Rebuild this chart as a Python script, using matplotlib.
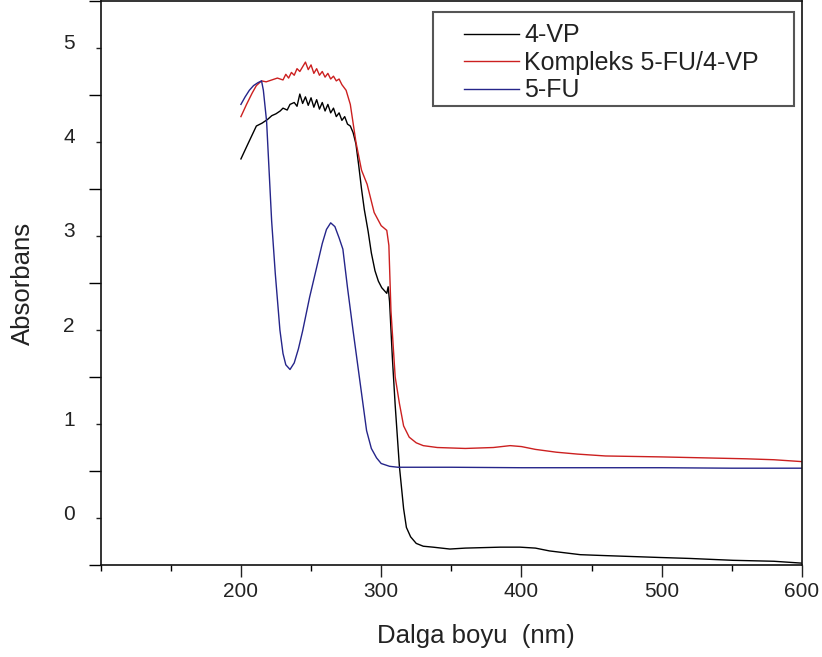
import numpy as np
import matplotlib
matplotlib.use("Agg")
import matplotlib.pyplot as plt
from matplotlib.ticker import FixedLocator
from matplotlib.patches import Rectangle
import matplotlib.transforms as mtransforms

plt.rcParams['font.family'] = ['Liberation Sans', 'DejaVu Sans']

# 4-VP (black)
vp_x = [200, 205, 211, 215, 219, 222, 225, 228, 230, 233, 235, 238, 240, 242, 244, 246, 248, 250,
        252, 254, 256, 258, 260, 262, 264, 266, 268, 270, 272, 274, 276, 278, 280, 282, 284, 286,
        288, 290.7, 293, 295.6, 298, 300.4, 304, 305, 306, 308, 310, 313, 316, 318, 321, 325, 330,
        337, 349, 360, 385, 399, 410, 420, 442, 460, 499, 520, 551, 580, 600]
vp_y = [3.82, 3.98, 4.17, 4.20, 4.24, 4.28, 4.30, 4.33, 4.36, 4.34, 4.40, 4.42, 4.38, 4.51, 4.41,
        4.48, 4.39, 4.47, 4.37, 4.45, 4.35, 4.42, 4.33, 4.40, 4.31, 4.36, 4.27, 4.31, 4.23, 4.27,
        4.19, 4.17, 4.10, 3.98, 3.75, 3.50, 3.28, 3.05, 2.82, 2.63, 2.52, 2.45, 2.39, 2.46, 2.30,
        1.70, 1.20, 0.55, 0.10, -0.10, -0.20, -0.27, -0.30, -0.31, -0.33, -0.32, -0.31, -0.31,
        -0.32, -0.35, -0.39, -0.40, -0.42, -0.43, -0.45, -0.46, -0.48]

# Kompleks 5-FU/4-VP (red)
komp_x = [200, 204, 208, 211, 214.7, 218, 222, 226, 230, 232, 234, 236, 238, 240, 242, 244, 246,
          248, 250, 252, 254, 256, 258, 260, 262, 264, 266, 268, 270, 272, 275, 278, 282, 286, 290,
          295, 300, 304, 305.5, 307, 310, 313, 316, 320, 325, 330, 340, 360, 380, 392, 400, 410,
          425, 440, 460, 500, 530, 560, 580, 600]
komp_y = [4.27, 4.40, 4.52, 4.60, 4.65, 4.64, 4.66, 4.68, 4.66, 4.72, 4.68, 4.74, 4.71, 4.78,
          4.75, 4.80, 4.85, 4.77, 4.82, 4.73, 4.78, 4.71, 4.75, 4.69, 4.73, 4.67, 4.70, 4.65, 4.67,
          4.61, 4.55, 4.40, 4.00, 3.70, 3.55, 3.25, 3.11, 3.06, 2.90, 2.20, 1.50, 1.22, 0.98, 0.86,
          0.80, 0.77, 0.75, 0.74, 0.75, 0.77, 0.76, 0.73, 0.70, 0.68, 0.66, 0.65, 0.64, 0.63, 0.62,
          0.60]

# 5-FU (blue)
fu_x = [200, 203, 206, 209, 212, 214.7, 216, 218.3, 221.9, 224.5, 227.8, 230, 232, 235, 238, 241,
        244, 249, 253.9, 258, 261, 264, 267, 270, 272.7, 276, 280, 284.8, 289.6, 293, 296.7, 300,
        306, 312, 350, 400, 450, 500, 550, 600]
fu_y = [4.40, 4.48, 4.55, 4.60, 4.63, 4.65, 4.55, 4.22, 3.16, 2.60, 2.00, 1.75, 1.63, 1.58, 1.65,
        1.80, 1.99, 2.35, 2.66, 2.92, 3.07, 3.14, 3.10, 2.98, 2.86, 2.45, 1.99, 1.46, 0.93, 0.74,
        0.64, 0.58, 0.55, 0.54, 0.54, 0.535, 0.535, 0.535, 0.53, 0.53]

labels = ['4-VP', 'Kompleks 5-FU/4-VP', '5-FU']
colors = ['black', '#cc2020', '#25258a']

fig = plt.figure(figsize=(8.22, 6.57), dpi=100)
ax = fig.add_axes([0.1225, 0.140, 0.853, 0.8585])

ax.plot(vp_x, vp_y, color=colors[0], lw=1.0, label=labels[0])
ax.plot(komp_x, komp_y, color=colors[1], lw=1.0, label=labels[1])
ax.plot(fu_x, fu_y, color=colors[2], lw=1.0, label=labels[2])

ax.set_xlim(100, 600)
ax.set_ylim(-0.5, 5.5)

ax.xaxis.set_major_locator(FixedLocator([200, 300, 400, 500, 600]))
ax.xaxis.set_minor_locator(FixedLocator([100, 150, 250, 350, 450, 550]))
ax.yaxis.set_major_locator(FixedLocator([0, 1, 2, 3, 4, 5]))
ax.yaxis.set_minor_locator(FixedLocator([-0.5, 0.5, 1.5, 2.5, 3.5, 4.5, 5.5]))

ax.tick_params(axis='x', which='major', length=8.5, width=1, direction='out',
               labelsize=15, pad=4, colors='#222222')
ax.tick_params(axis='x', which='minor', length=4.3, width=1, direction='out')
ax.tick_params(axis='y', which='major', length=3.6, width=1, direction='out',
               labelsize=15, pad=15, colors='#222222')
ax.tick_params(axis='y', which='minor', length=8.5, width=1, direction='out')

# y labels sit a little above their ticks
offset = mtransforms.ScaledTranslation(0, 6 / 100, fig.dpi_scale_trans)
for lab in ax.get_yticklabels():
    lab.set_transform(lab.get_transform() + offset)

for sp in ax.spines.values():
    sp.set_linewidth(1.2)
    sp.set_color('#111111')

ax.set_xlabel('Dalga boyu  (nm)', fontsize=18.5, labelpad=12, color='#222222')
ax.xaxis.set_label_coords(0.535, -0.105)
ax.set_ylabel('Absorbans', fontsize=18.5, color='#222222')
ax.yaxis.set_label_coords(-0.094, 0.5)

leg = ax.legend(loc='upper right', bbox_to_anchor=(0.953, 0.978), frameon=False,
                fontsize=18, handlelength=2.2, handletextpad=0.2, labelspacing=0.14,
                borderaxespad=0)
for t in leg.get_texts():
    t.set_color('#222222')
ax.add_patch(Rectangle((0.474, 0.814), 0.515, 0.1665, transform=ax.transAxes,
                       fill=False, ec='#555555', lw=1.5, zorder=5))

fig.savefig('out.png', dpi=100)
